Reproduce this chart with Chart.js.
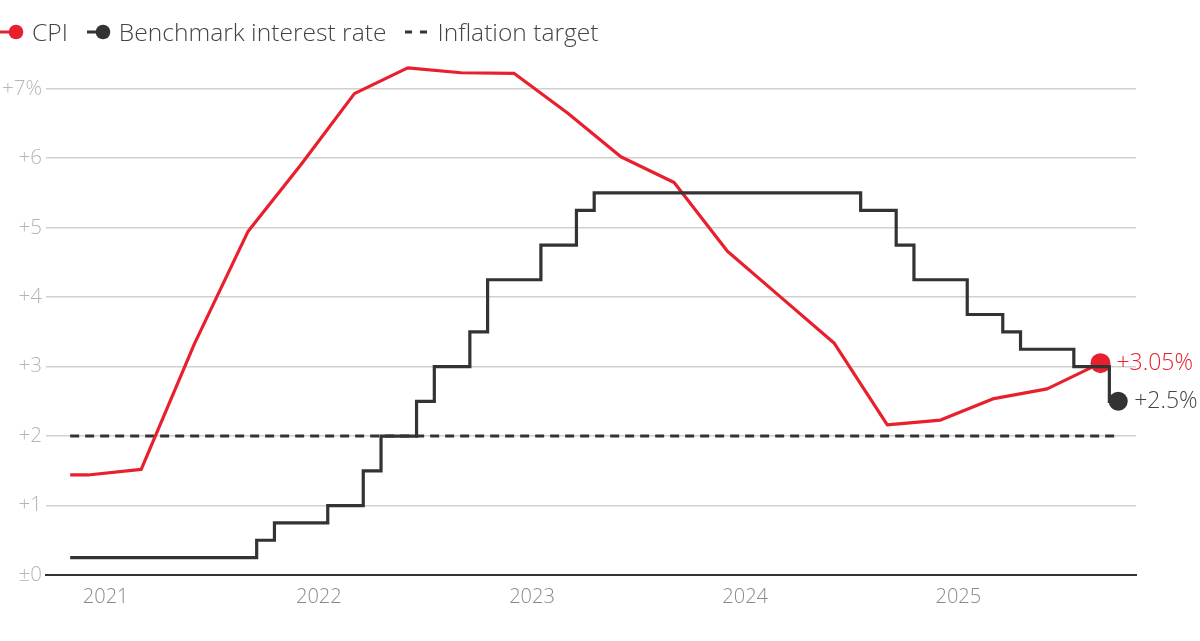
<!DOCTYPE html>
<html>
<head>
<meta charset="utf-8">
<script src="https://cdn.jsdelivr.net/npm/chart.js@4.4.1/dist/chart.umd.min.js"></script>
<style>
  html, body { margin: 0; padding: 0; background: #fff; }
  body { width: 1200px; height: 641px; position: relative; overflow: hidden; font-family: "Open Sans", "Noto Sans", sans-serif; }
  #legend { position: absolute; left: 0; top: 18px; display: flex; align-items: center; font-size: 24.6px; font-weight: 300; color: #444; line-height: 28px; z-index: 2; }
  .item { display: flex; align-items: center; margin-right: 19px; }
  .item svg { margin-right: 8px; }
  #chart { position: absolute; left: 0; top: 0; }
</style>
</head>
<body>
<div id="legend"></div>
<canvas id="chart" width="1200" height="641"></canvas>
<script>
// CPI, year-on-year %, quarterly
const cpiMonths = ['2020-11', '2020-12', '2021-03', '2021-06', '2021-09', '2021-12',
    '2022-03', '2022-06', '2022-09', '2022-12', '2023-03', '2023-06', '2023-09', '2023-12',
    '2024-03', '2024-06', '2024-09', '2024-12', '2025-03', '2025-06', '2025-09'];
const cpiValues = [1.44, 1.44, 1.52, 3.33, 4.94, 5.91,
    6.93, 7.30, 7.23, 7.22, 6.65, 6.02, 5.65, 4.66,
    4.00, 3.34, 2.16, 2.23, 2.54, 2.68, 3.05];

// Benchmark interest rate, %, monthly
const rateMonths = [
    '2020-11', '2020-12',
    '2021-01', '2021-02', '2021-03', '2021-04', '2021-05', '2021-06', '2021-07', '2021-08', '2021-09', '2021-10', '2021-11', '2021-12',
    '2022-01', '2022-02', '2022-03', '2022-04', '2022-05', '2022-06', '2022-07', '2022-08', '2022-09', '2022-10', '2022-11', '2022-12',
    '2023-01', '2023-02', '2023-03', '2023-04', '2023-05', '2023-06', '2023-07', '2023-08', '2023-09', '2023-10', '2023-11', '2023-12',
    '2024-01', '2024-02', '2024-03', '2024-04', '2024-05', '2024-06', '2024-07', '2024-08', '2024-09', '2024-10', '2024-11', '2024-12',
    '2025-01', '2025-02', '2025-03', '2025-04', '2025-05', '2025-06', '2025-07', '2025-08', '2025-09', '2025-10'];
const rateValues = [
    0.25, 0.25,
    0.25, 0.25, 0.25, 0.25, 0.25, 0.25, 0.25, 0.25, 0.25, 0.5, 0.75, 0.75,
    0.75, 1.0, 1.0, 1.5, 2.0, 2.0, 2.5, 3.0, 3.0, 3.5, 4.25, 4.25,
    4.25, 4.75, 4.75, 5.25, 5.5, 5.5, 5.5, 5.5, 5.5, 5.5, 5.5, 5.5,
    5.5, 5.5, 5.5, 5.5, 5.5, 5.5, 5.5, 5.25, 5.25, 4.75, 4.25, 4.25,
    4.25, 3.75, 3.75, 3.5, 3.25, 3.25, 3.25, 3.0, 3.0, 2.5];

// Inflation target
const targetMonths = ['2020-11', '2025-10'];
const targetValues = [2, 2];

const yearTicks = [2021, 2022, 2023, 2024, 2025];
const yTicks = [0, 1, 2, 3, 4, 5, 6, 7];

const RED = '#e8202e';
const DARK = '#333333';
const FONT = '"Open Sans", "Noto Sans", sans-serif';

// months since Jan 2021
function monthIndex(m) {
    const [y, mo] = m.split('-').map(Number);
    return (y - 2021) * 12 + (mo - 1);
}

function toPoints(months, values) {
    return months.map((m, i) => ({ x: monthIndex(m), y: values[i] }));
}

function lastOnly(r) {
    return (c) => (c.dataIndex === c.dataset.data.length - 1 ? r : 0);
}

function yLabel(v) {
    if (v === 0) return '±0';
    if (v === 7) return '+7%';
    return '+' + v;
}

const datasets = [
    {
        label: 'Benchmark interest rate',
        data: toPoints(rateMonths, rateValues),
        borderColor: DARK,
        backgroundColor: DARK,
        borderWidth: 3.2,
        stepped: 'middle',
        pointRadius: lastOnly(9.5),
        pointBorderWidth: 0,
        order: 0,
        marker: 'dot',
        endLabel: '+' + rateValues[rateValues.length - 1] + '%',
        endColor: '#444'
    },
    {
        label: 'CPI',
        data: toPoints(cpiMonths, cpiValues),
        borderColor: RED,
        backgroundColor: RED,
        borderWidth: 3.2,
        tension: 0,
        borderJoinStyle: 'round',
        pointRadius: lastOnly(10),
        pointBorderWidth: 0,
        order: 1,
        marker: 'dot',
        endLabel: '+' + cpiValues[cpiValues.length - 1].toFixed(2) + '%',
        endColor: RED
    },
    {
        label: 'Inflation target',
        data: toPoints(targetMonths, targetValues),
        borderColor: DARK,
        borderWidth: 3,
        borderDash: [9, 6],
        pointRadius: 0,
        order: 2,
        marker: 'dash'
    }
];

// labels at the right end of the lines
const endLabels = {
    id: 'endLabels',
    afterDatasetsDraw(chart) {
        const ctx = chart.ctx;
        chart.data.datasets.forEach((ds, i) => {
            if (!ds.endLabel) return;
            const meta = chart.getDatasetMeta(i);
            const pt = meta.data[meta.data.length - 1];
            ctx.save();
            ctx.font = '300 23px ' + FONT;
            ctx.fillStyle = ds.endColor;
            ctx.textBaseline = 'middle';
            ctx.fillText(ds.endLabel, pt.x + 16, pt.y);
            ctx.restore();
        });
    }
};

// html legend, in the order shown in the reference
function buildLegend() {
    const order = ['CPI', 'Benchmark interest rate', 'Inflation target'];
    const el = document.getElementById('legend');
    order.forEach((name) => {
        const ds = datasets.find((d) => d.label === name);
        let svg;
        if (ds.marker === 'dot') {
            svg = '<svg width="24" height="16"><line x1="0" y1="8" x2="16" y2="8" stroke="' + ds.borderColor +
                '" stroke-width="3"/><circle cx="16" cy="8" r="7.3" fill="' + ds.borderColor + '"/></svg>';
        } else {
            svg = '<svg width="24" height="16"><line x1="0" y1="8" x2="23" y2="8" stroke="' + ds.borderColor +
                '" stroke-width="3" stroke-dasharray="7 8"/></svg>';
        }
        const item = document.createElement('div');
        item.className = 'item';
        item.innerHTML = svg + '<span>' + name + '</span>';
        el.appendChild(item);
    });
}

buildLegend();

const ctx = document.getElementById('chart').getContext('2d');
new Chart(ctx, {
    type: 'line',
    data: { datasets: datasets },
    plugins: [endLabels],
    options: {
        responsive: false,
        animation: false,
        events: [],
        layout: { padding: { top: 54, right: 64, left: 0, bottom: 0 } },
        plugins: {
            legend: { display: false },
            tooltip: { enabled: false }
        },
        scales: {
            x: {
                type: 'linear',
                min: -3.36,
                max: 58,
                afterBuildTicks: (scale) => {
                    scale.ticks = yearTicks.map((y) => ({ value: (y - 2021) * 12 }));
                },
                afterFit: (scale) => { scale.height = 66; },
                grid: { display: false, drawTicks: false },
                border: { display: true, color: DARK, width: 2 },
                ticks: {
                    padding: 10,
                    color: '#8a8a8a',
                    font: { family: FONT, size: 20, weight: '300' },
                    callback: (v) => String(2021 + v / 12)
                }
            },
            y: {
                min: 0,
                max: 7.5,
                afterBuildTicks: (scale) => {
                    scale.ticks = yTicks.map((v) => ({ value: v }));
                },
                afterFit: (scale) => { scale.width = 46; },
                grid: {
                    drawTicks: false,
                    lineWidth: 1.5,
                    color: (c) => (c.tick && c.tick.value === 0 ? 'rgba(0,0,0,0)' : '#d0d0d0')
                },
                border: { display: false },
                ticks: {
                    padding: 4,
                    color: '#b5b5b5',
                    font: { family: FONT, size: 20.5, weight: '300' },
                    callback: (v) => yLabel(v)
                }
            }
        }
    }
});
</script>
</body>
</html>
